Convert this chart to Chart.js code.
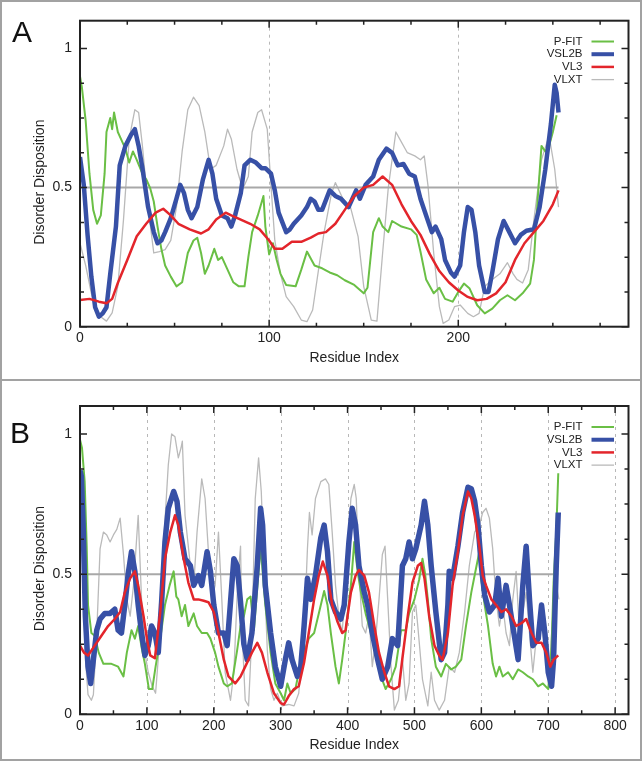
<!DOCTYPE html>
<html>
<head>
<meta charset="utf-8">
<script src="https://cdn.jsdelivr.net/npm/chart.js@4.4.1/dist/chart.umd.min.js"></script>
<style>
  html, body { margin: 0; padding: 0; background: #fff; }
  #wrap { position: relative; width: 644px; height: 761px; overflow: hidden; font-family: "Liberation Sans", Arial, sans-serif; }
  .frame { position: absolute; left: 0; top: 0; width: 638px; height: 757px; border: 2px solid #a2a2a2; }
  .sep { position: absolute; left: 0; top: 379px; width: 642px; height: 2px; background: #a2a2a2; }
  .tag { position: absolute; font-size: 30px; color: #111; line-height: 1; }
  canvas { position: absolute; left: 2px; }
</style>
</head>
<body>
<div id="wrap">
  <div class="frame"></div>
  <div class="sep"></div>
  <canvas id="chartA" width="638" height="377" style="top:2px"></canvas>
  <canvas id="chartB" width="638" height="378" style="top:381px"></canvas>
  <div class="tag" style="left:12px; top:17px">A</div>
  <div class="tag" style="left:10px; top:418px">B</div>
</div>
<script>
// series names, legend order
const seriesNames = ["P-FIT", "VSL2B", "VL3", "VLXT"];
const threshold = 0.5;

// tick values
const yTicks = [0, 0.5, 1];
const yMinorStep = 0.125;
const aXTicks = [0, 100, 200];
const aXMinorStep = 25;
const bXTicks = [0, 100, 200, 300, 400, 500, 600, 700, 800];
const bXMinorStep = 50;

// ---- panel A (residue index / disorder score) ----
const aPfitX = [0, 1, 3, 5, 7, 9, 11, 13, 14, 16, 17, 18, 20, 22, 24, 26, 28, 30, 33, 35, 37, 39, 41, 43, 45, 48, 51, 54, 57, 60, 62, 64, 66, 68, 71, 73, 75, 78, 81, 84, 87, 89, 91, 94, 97, 98, 100, 102, 104, 106, 109, 114, 117, 120, 124, 128, 132, 136, 140, 145, 150, 152, 155, 158, 160, 163, 165, 170, 175, 178, 180, 183, 187, 190, 193, 197, 200, 203, 206, 210, 214, 218, 222, 226, 230, 234, 238, 240, 242, 244, 246, 248, 250, 252];
const aPfitY = [0.90, 0.86, 0.74, 0.55, 0.42, 0.37, 0.40, 0.55, 0.70, 0.75, 0.71, 0.77, 0.70, 0.67, 0.64, 0.59, 0.63, 0.60, 0.55, 0.53, 0.50, 0.45, 0.36, 0.28, 0.22, 0.18, 0.145, 0.16, 0.265, 0.31, 0.32, 0.265, 0.19, 0.22, 0.28, 0.24, 0.25, 0.205, 0.16, 0.145, 0.145, 0.25, 0.34, 0.40, 0.47, 0.36, 0.26, 0.30, 0.24, 0.19, 0.15, 0.145, 0.205, 0.27, 0.22, 0.21, 0.195, 0.185, 0.167, 0.15, 0.12, 0.14, 0.34, 0.39, 0.36, 0.34, 0.38, 0.36, 0.35, 0.33, 0.27, 0.17, 0.12, 0.14, 0.10, 0.09, 0.125, 0.155, 0.137, 0.077, 0.048, 0.065, 0.095, 0.113, 0.095, 0.12, 0.155, 0.24, 0.46, 0.65, 0.63, 0.65, 0.70, 0.76];

const aVsl2bX = [0, 2, 4, 6, 8, 10, 12, 14, 16, 19, 21, 24, 27, 29, 31, 33, 36, 39, 41, 43, 45, 48, 51, 53, 55, 57, 59, 62, 65, 68, 70, 72, 75, 78, 80, 82, 85, 87, 90, 93, 96, 98, 101, 103, 105, 109, 111, 113, 117, 120, 122, 124, 126, 128, 132, 135, 138, 142, 146, 148, 151, 155, 158, 162, 165, 168, 171, 174, 177, 180, 183, 186, 188, 191, 193, 196, 198, 201, 203, 205, 207, 209, 211, 214, 216, 218, 221, 224, 227, 230, 233, 236, 240, 243, 246, 249, 251, 252, 253];
const aVsl2bY = [0.61, 0.51, 0.33, 0.18, 0.07, 0.036, 0.048, 0.07, 0.19, 0.36, 0.58, 0.65, 0.69, 0.71, 0.65, 0.57, 0.43, 0.34, 0.30, 0.31, 0.34, 0.39, 0.46, 0.51, 0.48, 0.42, 0.39, 0.43, 0.53, 0.60, 0.55, 0.46, 0.40, 0.39, 0.36, 0.40, 0.48, 0.58, 0.60, 0.59, 0.57, 0.57, 0.55, 0.49, 0.41, 0.34, 0.35, 0.37, 0.40, 0.43, 0.46, 0.45, 0.42, 0.42, 0.49, 0.47, 0.46, 0.43, 0.49, 0.46, 0.51, 0.54, 0.60, 0.64, 0.625, 0.58, 0.585, 0.55, 0.54, 0.46, 0.40, 0.34, 0.36, 0.315, 0.24, 0.196, 0.18, 0.22, 0.34, 0.43, 0.42, 0.34, 0.22, 0.125, 0.125, 0.196, 0.315, 0.38, 0.34, 0.30, 0.33, 0.345, 0.35, 0.43, 0.565, 0.73, 0.87, 0.84, 0.77];

const aVl3X = [0, 5, 10, 14, 17, 20, 25, 30, 35, 40, 44, 48, 52, 58, 64, 68, 72, 77, 80, 85, 90, 95, 100, 103, 107, 112, 117, 122, 126, 130, 135, 140, 145, 150, 155, 160, 165, 170, 175, 180, 185, 190, 195, 200, 205, 210, 215, 220, 225, 230, 235, 240, 245, 250, 253];
const aVl3Y = [0.096, 0.10, 0.09, 0.084, 0.10, 0.157, 0.24, 0.325, 0.37, 0.41, 0.424, 0.40, 0.37, 0.35, 0.335, 0.35, 0.385, 0.41, 0.40, 0.385, 0.37, 0.35, 0.31, 0.28, 0.28, 0.305, 0.305, 0.32, 0.335, 0.34, 0.37, 0.42, 0.47, 0.50, 0.51, 0.54, 0.51, 0.44, 0.38, 0.33, 0.26, 0.20, 0.16, 0.13, 0.107, 0.095, 0.10, 0.12, 0.16, 0.24, 0.30, 0.34, 0.38, 0.44, 0.49];

const aVlxtX = [0, 3, 6, 10, 14, 17, 20, 23, 26, 29, 31, 33, 36, 39, 42, 45, 48, 51, 54, 57, 60, 63, 66, 69, 72, 76, 78, 80, 83, 86, 89, 91, 94, 96, 99, 101, 103, 106, 109, 113, 117, 120, 123, 126, 129, 133, 135, 139, 143, 147, 150, 154, 157, 160, 163, 167, 169, 173, 177, 180, 182, 184, 187, 190, 192, 195, 198, 201, 205, 208, 211, 214, 218, 222, 226, 229, 231, 234, 237, 240, 244, 248, 251, 253];
const aVlxtY = [0.30, 0.22, 0.12, 0.04, 0.02, 0.05, 0.145, 0.385, 0.675, 0.78, 0.77, 0.65, 0.43, 0.265, 0.27, 0.277, 0.31, 0.43, 0.63, 0.78, 0.825, 0.795, 0.70, 0.566, 0.58, 0.65, 0.71, 0.675, 0.566, 0.494, 0.54, 0.70, 0.77, 0.78, 0.71, 0.506, 0.31, 0.19, 0.108, 0.072, 0.024, 0.018, 0.06, 0.20, 0.337, 0.48, 0.518, 0.46, 0.43, 0.325, 0.145, 0.024, 0.02, 0.265, 0.50, 0.70, 0.675, 0.626, 0.614, 0.60, 0.614, 0.506, 0.265, 0.072, 0.012, 0.024, 0.072, 0.078, 0.048, 0.036, 0.048, 0.145, 0.17, 0.19, 0.23, 0.19, 0.17, 0.157, 0.205, 0.385, 0.60, 0.687, 0.566, 0.43];

// ---- panel B ----
const bPfitX = [0, 3, 7, 10, 12, 17, 22, 28, 35, 47, 57, 65, 70, 77, 82, 87, 92, 97, 103, 108, 113, 120, 127, 134, 140, 144, 147, 152, 157, 162, 170, 175, 182, 190, 195, 202, 207, 215, 220, 227, 235, 240, 245, 250, 255, 260, 265, 270, 277, 285, 292, 300, 305, 310, 315, 322, 327, 335, 342, 350, 357, 365, 370, 375, 382, 387, 392, 397, 405, 410, 415, 420, 427, 435, 442, 450, 457, 465, 472, 480, 487, 492, 500, 507, 512, 516, 520, 525, 532, 540, 547, 555, 562, 570, 577, 585, 592, 597, 600, 605, 610, 617, 622, 627, 632, 640, 647, 655, 662, 670, 677, 685, 692, 700, 705, 708, 712, 715];
const bPfitY = [0.98, 0.95, 0.83, 0.60, 0.39, 0.29, 0.28, 0.22, 0.18, 0.18, 0.17, 0.135, 0.22, 0.30, 0.27, 0.315, 0.24, 0.18, 0.09, 0.09, 0.17, 0.27, 0.39, 0.46, 0.51, 0.42, 0.41, 0.35, 0.39, 0.315, 0.36, 0.315, 0.29, 0.29, 0.27, 0.22, 0.17, 0.11, 0.10, 0.11, 0.23, 0.315, 0.35, 0.41, 0.42, 0.30, 0.45, 0.60, 0.39, 0.22, 0.11, 0.075, 0.05, 0.11, 0.075, 0.09, 0.15, 0.22, 0.27, 0.29, 0.36, 0.44, 0.39, 0.29, 0.17, 0.11, 0.195, 0.29, 0.46, 0.615, 0.51, 0.435, 0.36, 0.29, 0.22, 0.135, 0.09, 0.125, 0.17, 0.30, 0.30, 0.36, 0.41, 0.48, 0.555, 0.50, 0.41, 0.27, 0.17, 0.135, 0.18, 0.16, 0.17, 0.195, 0.315, 0.435, 0.52, 0.58, 0.48, 0.39, 0.315, 0.18, 0.135, 0.17, 0.135, 0.15, 0.125, 0.16, 0.15, 0.135, 0.125, 0.10, 0.11, 0.09, 0.24, 0.47, 0.65, 0.86];

const bVsl2bX = [0, 2, 5, 8, 12, 16, 20, 25, 30, 37, 45, 52, 57, 62, 67, 72, 77, 82, 87, 92, 97, 102, 107, 112, 117, 122, 127, 132, 140, 145, 150, 157, 165, 170, 177, 182, 190, 195, 200, 207, 215, 220, 225, 230, 235, 240, 245, 250, 257, 265, 270, 273, 277, 285, 292, 300, 307, 312, 317, 325, 330, 335, 340, 345, 352, 360, 365, 370, 375, 382, 390, 395, 402, 407, 412, 417, 425, 430, 437, 445, 452, 460, 467, 475, 482, 487, 492, 497, 502, 510, 515, 520, 525, 532, 540, 545, 550, 552, 557, 565, 572, 580, 585, 590, 595, 600, 605, 612, 620, 625, 630, 637, 642, 650, 655, 662, 667, 672, 677, 685, 690, 695, 700, 705, 708, 712, 715];
const bVsl2bY = [0.87, 0.85, 0.65, 0.35, 0.17, 0.11, 0.195, 0.30, 0.34, 0.36, 0.36, 0.375, 0.30, 0.29, 0.39, 0.50, 0.58, 0.51, 0.39, 0.29, 0.21, 0.245, 0.315, 0.29, 0.22, 0.40, 0.615, 0.735, 0.795, 0.76, 0.65, 0.555, 0.53, 0.46, 0.495, 0.46, 0.58, 0.51, 0.39, 0.29, 0.29, 0.245, 0.40, 0.555, 0.53, 0.40, 0.25, 0.195, 0.29, 0.53, 0.735, 0.675, 0.46, 0.29, 0.17, 0.10, 0.195, 0.255, 0.195, 0.135, 0.17, 0.315, 0.485, 0.41, 0.495, 0.63, 0.675, 0.58, 0.41, 0.365, 0.34, 0.39, 0.615, 0.735, 0.675, 0.53, 0.435, 0.39, 0.29, 0.195, 0.125, 0.17, 0.27, 0.245, 0.53, 0.555, 0.615, 0.555, 0.59, 0.675, 0.76, 0.675, 0.53, 0.365, 0.195, 0.22, 0.39, 0.51, 0.485, 0.60, 0.72, 0.81, 0.805, 0.76, 0.675, 0.53, 0.425, 0.365, 0.39, 0.485, 0.35, 0.46, 0.39, 0.27, 0.195, 0.46, 0.60, 0.41, 0.245, 0.27, 0.39, 0.29, 0.15, 0.10, 0.195, 0.53, 0.72];

const bVl3X = [0, 6, 12, 22, 32, 42, 52, 60, 67, 75, 82, 87, 95, 100, 105, 112, 120, 127, 135, 142, 147, 155, 162, 170, 177, 185, 192, 200, 207, 215, 222, 232, 240, 247, 257, 265, 272, 280, 290, 300, 305, 312, 320, 327, 335, 342, 350, 357, 363, 370, 377, 385, 392, 397, 405, 412, 417, 425, 432, 440, 447, 455, 462, 470, 477, 482, 490, 497, 505, 510, 515, 522, 530, 537, 542, 550, 557, 565, 572, 580, 585, 590, 597, 602, 607, 615, 622, 630, 637, 645, 652, 660, 667, 675, 682, 690, 697, 703, 708, 715];
const bVl3Y = [0.245, 0.22, 0.21, 0.245, 0.28, 0.315, 0.34, 0.365, 0.435, 0.485, 0.51, 0.46, 0.35, 0.27, 0.21, 0.20, 0.365, 0.555, 0.65, 0.71, 0.675, 0.555, 0.47, 0.41, 0.41, 0.405, 0.40, 0.365, 0.29, 0.195, 0.135, 0.11, 0.135, 0.17, 0.22, 0.255, 0.22, 0.15, 0.075, 0.04, 0.035, 0.065, 0.09, 0.10, 0.185, 0.29, 0.41, 0.495, 0.545, 0.495, 0.39, 0.33, 0.29, 0.30, 0.435, 0.495, 0.515, 0.495, 0.435, 0.315, 0.22, 0.15, 0.10, 0.09, 0.10, 0.20, 0.35, 0.47, 0.53, 0.54, 0.485, 0.35, 0.245, 0.21, 0.195, 0.29, 0.46, 0.58, 0.71, 0.795, 0.77, 0.71, 0.60, 0.495, 0.46, 0.41, 0.39, 0.365, 0.375, 0.35, 0.315, 0.325, 0.34, 0.29, 0.255, 0.255, 0.22, 0.17, 0.195, 0.21];

const bVlxtX = [0, 4, 8, 12, 17, 20, 25, 30, 35, 40, 45, 50, 55, 60, 65, 70, 75, 80, 87, 92, 97, 102, 108, 113, 120, 126, 132, 137, 142, 147, 151, 153, 157, 165, 170, 175, 182, 187, 192, 197, 202, 207, 212, 217, 225, 230, 236, 240, 242, 247, 252, 257, 262, 267, 271, 275, 280, 285, 290, 295, 302, 312, 320, 327, 335, 340, 343, 347, 352, 360, 367, 372, 377, 382, 387, 392, 400, 405, 410, 413, 417, 422, 427, 432, 437, 442, 447, 452, 456, 460, 465, 470, 476, 482, 487, 492, 497, 502, 505, 512, 520, 525, 530, 537, 545, 552, 560, 567, 575, 582, 590, 597, 602, 607, 612, 617, 622, 627, 632, 637, 642, 647, 652, 657, 662, 667, 672, 677, 682, 687, 692, 697, 702, 707, 712, 716];
const bVlxtY = [0.85, 0.55, 0.20, 0.07, 0.05, 0.07, 0.29, 0.59, 0.65, 0.64, 0.615, 0.64, 0.66, 0.70, 0.57, 0.41, 0.35, 0.46, 0.71, 0.41, 0.22, 0.15, 0.10, 0.075, 0.29, 0.65, 0.89, 1.0, 0.99, 0.915, 0.95, 0.975, 0.71, 0.53, 0.46, 0.65, 0.84, 0.77, 0.58, 0.41, 0.46, 0.65, 0.41, 0.15, 0.05, 0.15, 0.48, 0.60, 0.315, 0.05, 0.03, 0.29, 0.77, 0.915, 0.795, 0.53, 0.23, 0.09, 0.05, 0.075, 0.03, 0.035, 0.03, 0.075, 0.29, 0.59, 0.72, 0.64, 0.77, 0.83, 0.84, 0.82, 0.65, 0.46, 0.35, 0.29, 0.59, 0.77, 0.82, 0.77, 0.51, 0.315, 0.29, 0.35, 0.17, 0.27, 0.41, 0.57, 0.60, 0.41, 0.17, 0.015, 0.05, 0.20, 0.05, 0.11, 0.365, 0.39, 0.315, 0.125, 0.03, 0.15, 0.05, 0.015, 0.05, 0.17, 0.15, 0.22, 0.365, 0.53, 0.65, 0.675, 0.72, 0.735, 0.70, 0.59, 0.41, 0.315, 0.39, 0.29, 0.245, 0.41, 0.51, 0.29, 0.365, 0.435, 0.29, 0.15, 0.27, 0.365, 0.29, 0.195, 0.17, 0.365, 0.46, 0.41];

Chart.defaults.font.family = '"Liberation Sans", Arial, sans-serif';
Chart.defaults.font.size = 14;
Chart.defaults.color = "#222";

const colors = {
  "P-FIT": "#6abf45",
  VSL2B: "#3750a6",
  VL3: "#e3252b",
  VLXT: "#bababa",
  cut: "#a8a8a8",
};

function pts(xs, ys) {
  return xs.map((x, i) => ({ x: x, y: ys[i] }));
}

// inward ticks, dashed grid, frame, legend and axis titles
const gnuFrame = {
  id: "gnuFrame",
  beforeDatasetsDraw(chart, args, o) {
    const { ctx, chartArea: a, scales } = chart;
    const xs = scales.x;
    ctx.save();
    ctx.strokeStyle = "#b8b8b8";
    ctx.lineWidth = 1;
    ctx.setLineDash([3, 4]);
    o.xTicks.forEach((v) => {
      if (v <= xs.min || v >= xs.max) return;
      const px = Math.round(xs.getPixelForValue(v)) + 0.5;
      ctx.beginPath();
      ctx.moveTo(px, a.top);
      ctx.lineTo(px, a.bottom);
      ctx.stroke();
    });
    ctx.restore();
  },
  afterDatasetsDraw(chart, args, o) {
    const { ctx, chartArea: a, scales } = chart;
    const xs = scales.x, ys = scales.y;
    ctx.save();
    ctx.strokeStyle = "#222";
    ctx.lineWidth = 1.5;
    // x ticks top and bottom
    for (let v = 0; v <= xs.max + 1e-6; v += o.xMinor) {
      const px = xs.getPixelForValue(v);
      const len = o.xTicks.includes(v) ? 7 : 4;
      ctx.beginPath();
      ctx.moveTo(px, a.bottom);
      ctx.lineTo(px, a.bottom - len);
      ctx.moveTo(px, a.top);
      ctx.lineTo(px, a.top + len);
      ctx.stroke();
    }
    // y ticks left and right
    for (let v = 0; v <= ys.max + 1e-6; v += o.yMinor) {
      const py = ys.getPixelForValue(v);
      const major = yTicks.some((t) => Math.abs(t - v) < 1e-6);
      const len = major ? 7 : 4;
      ctx.beginPath();
      ctx.moveTo(a.left, py);
      ctx.lineTo(a.left + len, py);
      ctx.moveTo(a.right, py);
      ctx.lineTo(a.right - len, py);
      ctx.stroke();
    }
    ctx.lineWidth = 2;
    ctx.strokeRect(a.left, a.top, a.right - a.left, a.bottom - a.top);

    // legend
    ctx.font = '11.5px "Liberation Sans", Arial, sans-serif';
    ctx.fillStyle = "#222";
    ctx.textAlign = "right";
    ctx.textBaseline = "middle";
    const y0 = ys.getPixelForValue(1) - 7;
    seriesNames.forEach((name, i) => {
      const ds = chart.data.datasets.find((d) => d.label === name);
      const y = y0 + i * 12.7;
      ctx.fillText(name, a.right - 46, y);
      ctx.strokeStyle = ds.borderColor;
      ctx.lineWidth = Math.min(ds.borderWidth, 4);
      ctx.beginPath();
      ctx.moveTo(a.right - 37, y);
      ctx.lineTo(a.right - 14.5, y);
      ctx.stroke();
    });

    // axis titles
    ctx.font = '14px "Liberation Sans", Arial, sans-serif';
    ctx.fillStyle = "#222";
    ctx.textAlign = "center";
    ctx.fillText("Residue Index", (a.left + a.right) / 2, a.bottom + 31);
    ctx.translate(38, (a.top + a.bottom) / 2 + 8.5);
    ctx.rotate(-Math.PI / 2);
    ctx.fillText("Disorder Disposition", 0, 0);
    ctx.restore();
  },
};

function makePanel(id, p) {
  const last = p.vsl2bX[p.vsl2bX.length - 1];
  const datasets = [
    { label: "VL3", data: pts(p.vl3X, p.vl3Y), borderColor: colors.VL3, borderWidth: 2.5, order: 1 },
    { label: "VSL2B", data: pts(p.vsl2bX, p.vsl2bY), borderColor: colors.VSL2B, borderWidth: p.blueWidth, order: 2 },
    { label: "P-FIT", data: pts(p.pfitX, p.pfitY), borderColor: colors["P-FIT"], borderWidth: 2, order: 3 },
    { label: "cutoff", data: [{ x: 0, y: threshold }, { x: last, y: threshold }], borderColor: colors.cut, borderWidth: 2, order: 4 },
    { label: "VLXT", data: pts(p.vlxtX, p.vlxtY), borderColor: colors.VLXT, borderWidth: 1.3, order: 5 },
  ];
  datasets.forEach((d) => {
    d.pointRadius = 0;
    d.tension = 0;
    d.fill = false;
    d.borderJoinStyle = "round";
  });
  return new Chart(document.getElementById(id), {
    type: "line",
    data: { datasets: datasets },
    options: {
      responsive: false,
      animation: false,
      events: [],
      layout: { padding: { top: p.padTop, right: 11.5, left: 0, bottom: 0 } },
      plugins: {
        legend: { display: false },
        tooltip: { enabled: false },
        gnuFrame: { xTicks: p.xTicks, xMinor: p.xMinor, yMinor: yMinorStep },
      },
      scales: {
        x: {
          type: "linear",
          min: 0,
          max: p.xMax,
          grid: { display: false, drawTicks: false },
          border: { display: false },
          ticks: { padding: 3, maxRotation: 0 },
          afterBuildTicks: (s) => { s.ticks = p.xTicks.map((v) => ({ value: v })); },
          afterFit: (s) => { s.height = p.xHeight; },
        },
        y: {
          min: 0,
          max: 1.1,
          grid: { display: false, drawTicks: false },
          border: { display: false },
          ticks: { padding: 8, callback: (v) => String(v) },
          afterBuildTicks: (s) => { s.ticks = yTicks.map((v) => ({ value: v })); },
          afterFit: (s) => { s.width = 78; },
        },
      },
    },
    plugins: [gnuFrame],
  });
}

makePanel("chartA", {
  pfitX: aPfitX, pfitY: aPfitY, vsl2bX: aVsl2bX, vsl2bY: aVsl2bY,
  vl3X: aVl3X, vl3Y: aVl3Y, vlxtX: aVlxtX, vlxtY: aVlxtY,
  xTicks: aXTicks, xMinor: aXMinorStep, xMax: 290,
  padTop: 18.7, xHeight: 52.3, blueWidth: 4.5,
});
makePanel("chartB", {
  pfitX: bPfitX, pfitY: bPfitY, vsl2bX: bVsl2bX, vsl2bY: bVsl2bY,
  vl3X: bVl3X, vl3Y: bVl3Y, vlxtX: bVlxtX, vlxtY: bVlxtY,
  xTicks: bXTicks, xMinor: bXMinorStep, xMax: 820,
  padTop: 25, xHeight: 44.7, blueWidth: 5.5,
});
</script>
</body>
</html>
